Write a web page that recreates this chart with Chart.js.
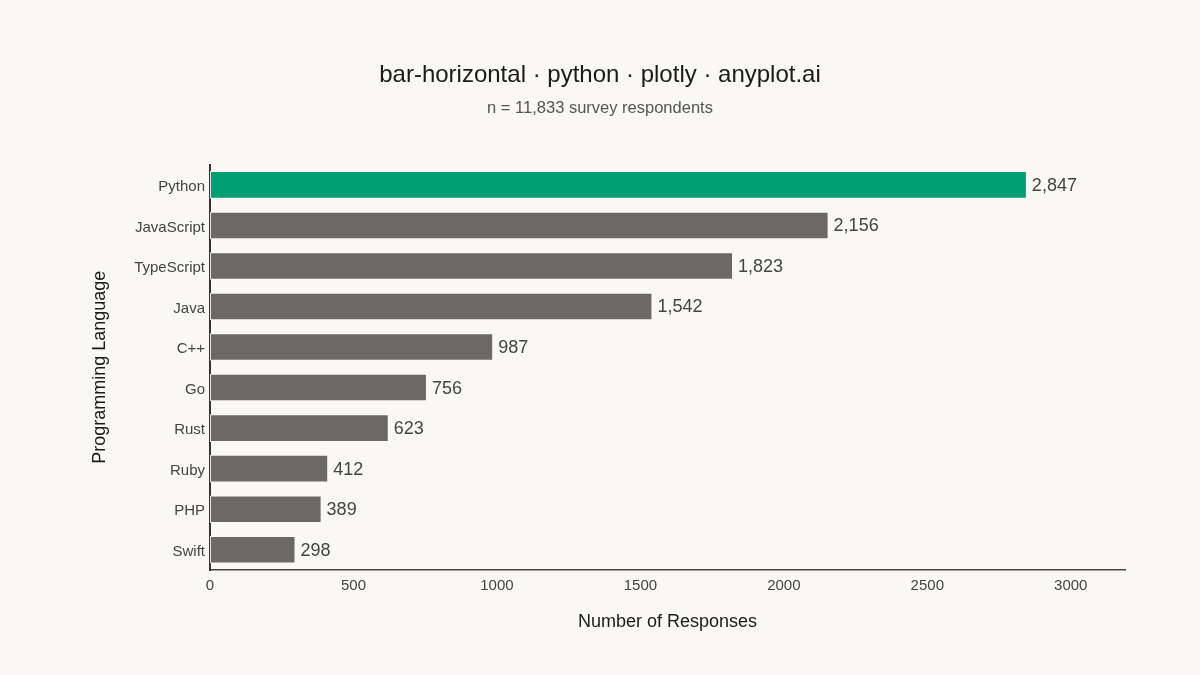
<!DOCTYPE html>
<html>
<head>
<meta charset="utf-8">
<script src="https://cdn.jsdelivr.net/npm/chart.js@4.4.1/dist/chart.umd.min.js"></script>
<style>
html,body{margin:0;padding:0;background:#FAF8F2;}
#wrap{width:1200px;height:675px;}
</style>
</head>
<body>
<div id="wrap"><canvas id="c" width="1200" height="675"></canvas></div>
<script>
const categories = ["Python","JavaScript","TypeScript","Java","C++","Go","Rust","Ruby","PHP","Swift"];
const responses = [2847,2156,1823,1542,987,756,623,412,389,298];
const highlight = "Python";
const xTicks = [0,500,1000,1500,2000,2500,3000];
const xMax = 3189;

const GREEN = "#009E73", GREY = "#6B6A62", BG = "#FAF8F2";
const FONT = "'Liberation Sans', Arial, Helvetica, sans-serif";

const bgPlugin = {
  id: 'bg',
  beforeDraw(chart) {
    const ctx = chart.ctx;
    ctx.save();
    ctx.fillStyle = BG;
    ctx.fillRect(0, 0, chart.width, chart.height);
    ctx.restore();
  }
};

const labelPlugin = {
  id: 'valueLabels',
  afterDatasetsDraw(chart) {
    const ctx = chart.ctx;
    const meta = chart.getDatasetMeta(0);
    const xs = chart.scales.x;
    ctx.save();
    ctx.font = "18px " + FONT;
    ctx.fillStyle = "#444444";
    ctx.textAlign = "left";
    ctx.textBaseline = "middle";
    meta.data.forEach((bar, i) => {
      const v = responses[i];
      const x = xs.getPixelForValue(v) + 5;
      ctx.fillText(v.toLocaleString('en-US'), x, bar.y + 1);
    });
    ctx.restore();
  }
};

new Chart(document.getElementById('c'), {
  type: 'bar',
  data: {
    labels: categories,
    datasets: [{
      data: responses,
      backgroundColor: categories.map(c => c === highlight ? GREEN : GREY),
      borderColor: "rgba(250,248,242,0.9)",
      borderWidth: 1,
      borderSkipped: false,
      categoryPercentage: 1.0,
      barPercentage: 0.68
    }]
  },
  plugins: [bgPlugin, labelPlugin],
  options: {
    indexAxis: 'y',
    responsive: false,
    animation: false,
    devicePixelRatio: 1,
    layout: { padding: { left: 75, right: 75, top: 0, bottom: 42 } },
    plugins: {
      legend: { display: false },
      tooltip: { enabled: false },
      title: {
        display: true,
        text: "bar-horizontal · python · plotly · anyplot.ai",
        color: "#1a1a1a",
        font: { family: FONT, size: 24, weight: 'normal', lineHeight: 1.2 },
        padding: { top: 61, bottom: 9 }
      },
      subtitle: {
        display: true,
        text: "n = 11,833 survey respondents",
        color: "#555555",
        font: { family: FONT, size: 16.5, weight: 'normal', lineHeight: 1.2 },
        padding: { top: 0, bottom: 46 }
      }
    },
    scales: {
      x: {
        type: 'linear',
        min: 0,
        max: xMax,
        afterBuildTicks(scale) {
          scale.ticks = xTicks.map(v => ({ value: v }));
        },
        afterFit(scale) { scale.height = 63; },
        grid: { display: false, drawTicks: false },
        border: { display: true, color: "#444444", width: 1.5 },
        ticks: {
          color: "#444444",
          padding: 7,
          font: { family: FONT, size: 15 },
          callback: v => String(v)
        },
        title: {
          display: true,
          text: "Number of Responses",
          color: "#1a1a1a",
          font: { family: FONT, size: 18, lineHeight: 1.2 },
          padding: 0
        }
      },
      y: {
        afterFit(scale) { scale.width = 135; },
        grid: { display: false, drawTicks: false },
        border: { display: true, color: "#333333", width: 2 },
        ticks: {
          color: "#444444",
          padding: 5,
          labelOffset: 2,
          font: { family: FONT, size: 15 }
        },
        title: {
          display: true,
          text: "Programming Language",
          color: "#1a1a1a",
          font: { family: FONT, size: 18, lineHeight: 1.2 },
          padding: { top: 14, bottom: 0 }
        }
      }
    }
  }
});
</script>
</body>
</html>
